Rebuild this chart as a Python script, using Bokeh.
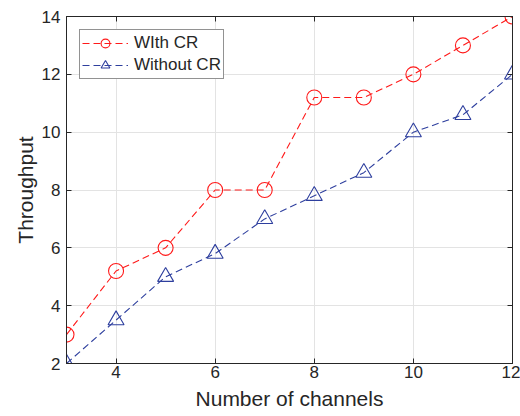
from bokeh.plotting import figure
from bokeh.models import FixedTicker, LinearAxis, Range1d, Legend, LegendItem
from bokeh.embed import file_html
from bokeh.resources import INLINE

channels = [3, 4, 5, 6, 7, 8, 9, 10, 11, 12]
with_cr = [3, 5.2, 6, 8, 8, 11.2, 11.2, 12, 13, 14]
without_cr = [2, 3.5, 5, 5.8, 7, 7.8, 8.6, 10, 10.6, 12]
x_ticks = [4, 6, 8, 10, 12]
y_ticks = [2, 4, 6, 8, 10, 12, 14]

FONT = "Liberation Sans"
AX = "#262626"
RED = "#ff1a1a"
BLUE = "#2e3f9e"

p = figure(width=520, height=416, output_backend="svg", toolbar_location=None,
           x_range=Range1d(3, 12), y_range=Range1d(2, 14),
           min_border_left=66, min_border_right=8, min_border_top=16, min_border_bottom=53)

p.outline_line_color = AX
p.outline_line_width = 1
p.background_fill_color = "white"
p.border_fill_color = "white"

for ax in (p.xaxis[0], p.yaxis[0]):
    ax.axis_line_color = AX
    ax.major_tick_line_color = AX
    ax.major_tick_in = 5
    ax.major_tick_out = 0
    ax.minor_tick_line_color = None
    ax.major_label_text_font = FONT
    ax.major_label_text_font_size = "17px"
    ax.major_label_text_color = AX
    ax.axis_label_text_font = FONT
    ax.axis_label_text_font_size = "21px"
    ax.axis_label_text_font_style = "normal"
    ax.axis_label_text_color = AX

p.xaxis.ticker = FixedTicker(ticks=x_ticks)
p.yaxis.ticker = FixedTicker(ticks=y_ticks)
p.xaxis.axis_label = "Number of channels"
p.yaxis.axis_label = "Throughput"
p.xaxis.major_label_standoff = 2
p.xaxis.axis_label_standoff = 6
p.yaxis.major_label_standoff = 6
p.yaxis.axis_label_standoff = 2

for side, tk in (("right", y_ticks), ("above", x_ticks)):
    a = LinearAxis(ticker=FixedTicker(ticks=tk),
                   major_label_overrides={t: "" for t in tk},
                   axis_line_color=AX, major_tick_line_color=AX,
                   major_tick_in=5, major_tick_out=0, minor_tick_line_color=None,
                   major_label_standoff=0)
    p.add_layout(a, side)

p.xgrid.ticker = FixedTicker(ticks=x_ticks)
p.ygrid.ticker = FixedTicker(ticks=y_ticks)
p.grid.grid_line_color = "#e3e3e3"
p.grid.grid_line_width = 1

l1 = p.line(channels, with_cr, line_color=RED, line_width=1.1, line_dash="7 4")
m1 = p.scatter(channels, with_cr, marker="circle", size=15, line_color=RED,
               fill_alpha=0, line_width=1.1)
l2 = p.line(channels, without_cr, line_color=BLUE, line_width=1.1, line_dash="7 4")
m2 = p.scatter(channels, without_cr, marker="triangle", size=16, line_color=BLUE,
               fill_alpha=0, line_width=1.1)

legend = Legend(items=[LegendItem(label="WIth CR", renderers=[l1, m1]),
                       LegendItem(label="Without CR", renderers=[l2, m2])],
                location="top_left", margin=13, padding=2, spacing=0,
                glyph_width=46, glyph_height=22, label_height=22,
                label_standoff=6,
                label_text_font=FONT, label_text_font_size="17px",
                label_text_color=AX, border_line_color=AX, border_line_width=1,
                background_fill_color="white", background_fill_alpha=1)
p.add_layout(legend)

open("out.html", "w").write(file_html(p, INLINE))
